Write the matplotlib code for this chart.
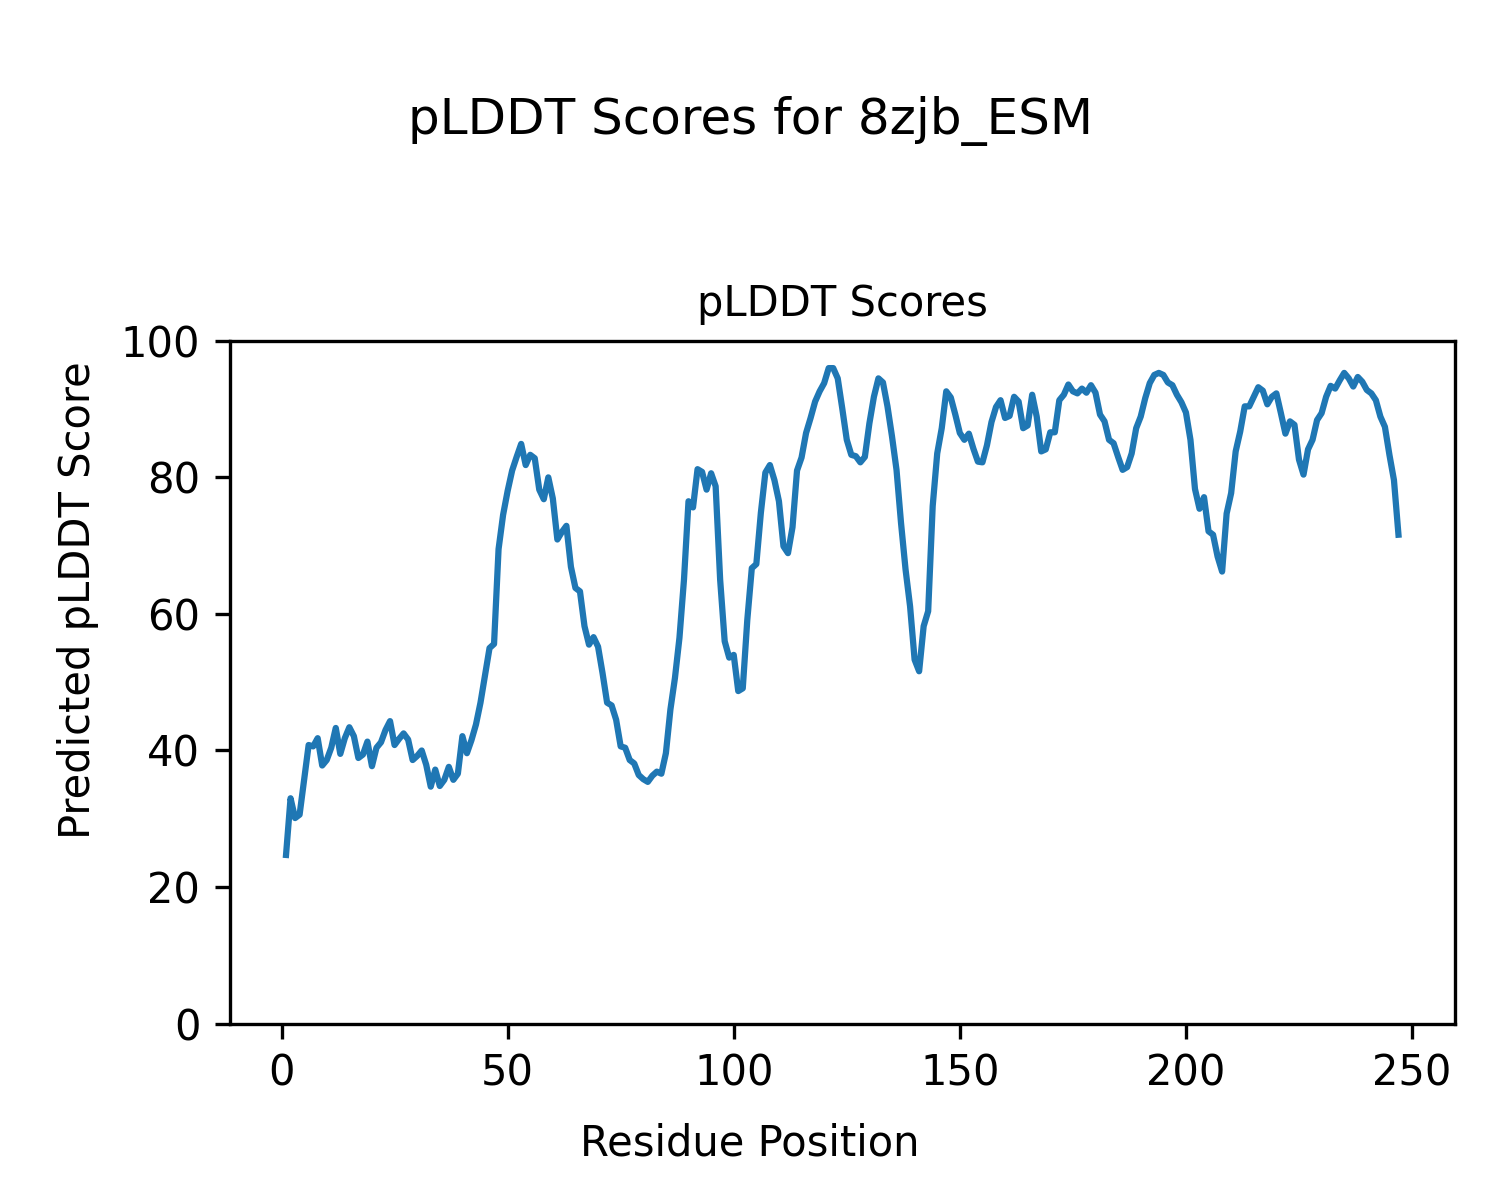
import matplotlib
matplotlib.use("Agg")
import matplotlib.pyplot as plt
import numpy as np

protein = "8zjb_ESM"

plddt = [
    24.7, 33.0, 30.1, 30.6, 35.7, 40.8, 40.6, 41.8, 37.8, 38.6,
    40.4, 43.3, 39.5, 41.8, 43.4, 42.1, 38.9, 39.4, 41.3, 37.7,
    40.4, 41.2, 43.0, 44.3, 40.8, 41.7, 42.5, 41.6, 38.6, 39.2,
    40.0, 37.9, 34.7, 37.2, 34.8, 35.7, 37.6, 35.7, 36.6, 42.1,
    39.6, 41.5, 43.8, 47.0, 51.0, 55.0, 55.6, 69.5, 74.5, 78.0,
    81.0, 83.0, 84.9, 81.8, 83.3, 82.8, 78.2, 76.8, 80.0, 76.9,
    70.9, 72.0, 72.9, 66.9, 63.8, 63.3, 58.2, 55.5, 56.6, 55.2,
    51.3, 47.0, 46.6, 44.5, 40.6, 40.4, 38.6, 38.1, 36.4, 35.8,
    35.4, 36.3, 36.9, 36.6, 39.6, 46.0, 50.6, 56.5, 65.0, 76.5,
    75.6, 81.2, 80.8, 78.2, 80.6, 78.7, 65.0, 56.0, 53.6, 54.0,
    48.7, 49.1, 59.1, 66.7, 67.3, 74.8, 80.7, 81.8, 79.6, 76.5,
    69.9, 68.9, 72.7, 81.0, 82.9, 86.5, 88.7, 91.1, 92.6, 93.8,
    96.0, 96.0, 94.5, 90.1, 85.5, 83.3, 83.1, 82.2, 83.0, 87.9,
    91.8, 94.5, 93.9, 90.4, 86.0, 81.1, 73.3, 66.5, 61.1, 53.3,
    51.6, 58.2, 60.4, 75.8, 83.5, 87.2, 92.6, 91.7, 89.2, 86.5,
    85.5, 86.4, 84.2, 82.3, 82.2, 84.7, 88.1, 90.3, 91.3, 88.7,
    89.0, 91.8, 91.1, 87.2, 87.6, 92.1, 88.9, 83.8, 84.1, 86.6,
    86.6, 91.3, 92.1, 93.6, 92.6, 92.3, 93.0, 92.4, 93.5, 92.4,
    89.2, 88.2, 85.5, 85.0, 83.0, 81.1, 81.5, 83.5, 87.2, 88.9,
    91.6, 93.8, 95.0, 95.3, 95.0, 93.9, 93.5, 92.1, 91.0, 89.5,
    85.5, 78.3, 75.4, 77.1, 72.1, 71.6, 68.4, 66.2, 74.7, 77.7,
    83.8, 86.7, 90.4, 90.4, 91.8, 93.2, 92.7, 90.7, 91.8, 92.3,
    89.4, 86.4, 88.2, 87.7, 82.6, 80.4, 84.1, 85.5, 88.4, 89.4,
    91.8, 93.4, 93.0, 94.2, 95.3, 94.5, 93.3, 94.7, 94.0, 92.8,
    92.3, 91.3, 88.9, 87.4, 83.3, 79.6, 71.6,
]
residues = np.arange(1, len(plddt) + 1)

fig = plt.figure(figsize=(5, 4), dpi=300)
fig.suptitle(f"pLDDT Scores for {protein}", fontsize=12, y=0.92)
ax = fig.add_axes([0.153, 0.147, 0.817, 0.569])
ax.plot(residues, plddt, color="tab:blue", linewidth=1.5)
ax.set_title("pLDDT Scores", fontsize=10)
fig.supxlabel("Residue Position", fontsize=10, y=0.03)
fig.supylabel("Predicted pLDDT Score", fontsize=10, x=0.038)
ax.set_ylim(0, 100)
ax.set_xlim(-11.5, 259.5)

fig.savefig("out.png", dpi=300)
